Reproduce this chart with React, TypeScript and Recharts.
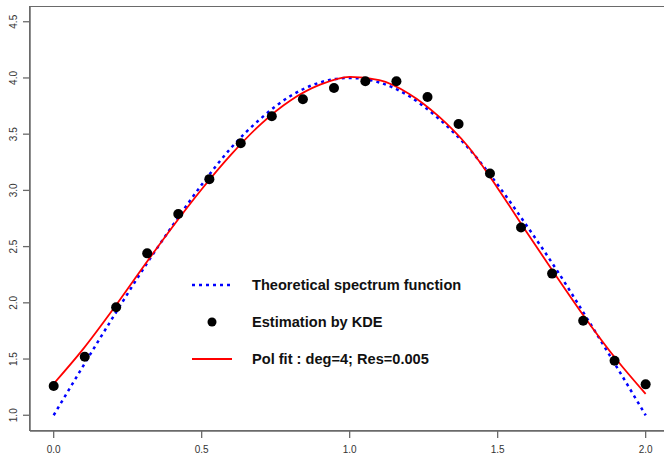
import {
  ComposedChart,
  Line,
  Scatter,
  XAxis,
  YAxis,
  Legend,
} from "recharts";

// grid used for both curves
const gridX = [0, 0.1, 0.2, 0.3, 0.4, 0.5, 0.6, 0.7, 0.8, 0.9, 1.0, 1.1, 1.2, 1.3, 1.4, 1.5, 1.6, 1.7, 1.8, 1.9, 2.0];
const theoY = [1.0, 1.44, 1.87, 2.29, 2.68, 3.05, 3.38, 3.64, 3.84, 3.96, 4.0, 3.96, 3.84, 3.64, 3.38, 3.05, 2.68, 2.29, 1.87, 1.44, 1.0];
const fitY = [1.28, 1.59, 1.94, 2.31, 2.67, 3.01, 3.32, 3.59, 3.8, 3.94, 4.01, 3.98, 3.86, 3.66, 3.39, 3.02, 2.62, 2.23, 1.85, 1.5, 1.19];

const kdeX = [0, 0.105, 0.211, 0.316, 0.421, 0.526, 0.632, 0.737, 0.842, 0.947, 1.053, 1.158, 1.263, 1.368, 1.474, 1.579, 1.684, 1.789, 1.895, 2.0];
const kdeY = [1.26, 1.52, 1.96, 2.44, 2.79, 3.1, 3.42, 3.66, 3.81, 3.91, 3.97, 3.97, 3.83, 3.59, 3.15, 2.67, 2.26, 1.84, 1.485, 1.275];

const xTicks = [0, 0.5, 1, 1.5, 2];
const yTicks = [1, 1.5, 2, 2.5, 3, 3.5, 4, 4.5];
const xDomain = [-0.08, 2.062];
const yDomain = [0.86, 4.64];

const theoData = gridX.map((x, i) => ({ x, y: theoY[i] }));
const fitData = gridX.map((x, i) => ({ x, y: fitY[i] }));
const kdeData = kdeX.map((x, i) => ({ x, y: kdeY[i] }));

const FONT = "'Liberation Sans', Arial, Helvetica, sans-serif";
const AXIS = "#6a6a6a";

const YTick = ({ x, y, payload }: any) => (
  <text
    x={x - 6}
    y={y}
    transform={`rotate(-90 ${x - 6} ${y})`}
    textAnchor="middle"
    fontSize={10}
    fontFamily={FONT}
    fill="#333"
  >
    {payload.value.toFixed(1)}
  </text>
);

const XTick = ({ x, y, payload }: any) => (
  <text x={x} y={y + 14.5} textAnchor="middle" fontSize={10} fontFamily={FONT} fill="#333">
    {payload.value.toFixed(1)}
  </text>
);

const legendItems = [
  { label: "Theoretical spectrum function", kind: "dash" },
  { label: "Estimation by KDE", kind: "dot" },
  { label: "Pol fit : deg=4; Res=0.005", kind: "line" },
];

const renderLegend = () => (
  <div style={{ fontFamily: FONT, fontWeight: "bold", fontSize: 14.6, color: "#111" }}>
    {legendItems.map((it) => (
      <div key={it.label} style={{ display: "flex", alignItems: "center", height: 37 }}>
        <svg width={60} height={12}>
          {it.kind === "dash" && (
            <line x1={0} y1={6} x2={40} y2={6} stroke="#0000ff" strokeWidth={2.5} strokeDasharray="3 4" />
          )}
          {it.kind === "dot" && <circle cx={20} cy={6} r={4.5} fill="#000" />}
          {it.kind === "line" && <line x1={0} y1={6} x2={40} y2={6} stroke="#ff0000" strokeWidth={1.8} />}
        </svg>
        <span>{it.label}</span>
      </div>
    ))}
  </div>
);

export default function App() {
  return (
    <div style={{ position: "absolute", left: 0, top: 0, width: 664, height: 455, background: "#fff" }}>
      <ComposedChart width={664} height={455} margin={{ top: 6, right: 0, bottom: 0, left: 0 }}>
        <XAxis
          type="number"
          dataKey="x"
          domain={xDomain}
          ticks={xTicks}
          allowDataOverflow
          height={24}
          tickSize={7}
          tickMargin={0}
          axisLine={{ stroke: AXIS, strokeWidth: 1.5 }}
          tickLine={{ stroke: AXIS, strokeWidth: 1.3 }}
          tick={<XTick />}
        />
        <YAxis
          type="number"
          dataKey="y"
          domain={yDomain}
          ticks={yTicks}
          allowDataOverflow
          width={30}
          tickSize={7}
          tickMargin={0}
          axisLine={{ stroke: AXIS, strokeWidth: 1.5 }}
          tickLine={{ stroke: AXIS, strokeWidth: 1.3 }}
          tick={<YTick />}
        />
        <Legend
          layout="vertical"
          align="center"
          verticalAlign="middle"
          content={renderLegend}
          wrapperStyle={{ left: 192, top: 266, width: 320 }}
        />
        <Line
          data={theoData}
          dataKey="y"
          type="monotone"
          stroke="#0000ff"
          strokeWidth={2.5}
          strokeDasharray="3 4"
          dot={false}
          activeDot={false}
          isAnimationActive={false}
          name="Theoretical spectrum function"
        />
        <Line
          data={fitData}
          dataKey="y"
          type="monotone"
          stroke="#ff0000"
          strokeWidth={1.8}
          dot={false}
          activeDot={false}
          isAnimationActive={false}
          name="Pol fit : deg=4; Res=0.005"
        />
        <Scatter
          data={kdeData}
          dataKey="y"
          fill="#000"
          isAnimationActive={false}
          name="Estimation by KDE"
          shape={(p: any) => <circle cx={p.cx} cy={p.cy} r={5} fill="#000" />}
        />
      </ComposedChart>
      {/* plot box frame (top and bottom edges), right edge runs off the page as in the original */}
      <div
        style={{
          position: "absolute",
          left: 29,
          top: 6,
          width: 635,
          height: 425,
          boxSizing: "border-box",
          borderTop: `1.5px solid ${AXIS}`,
          borderBottom: `1.5px solid ${AXIS}`,
          borderLeft: `1.5px solid ${AXIS}`,
          pointerEvents: "none",
        }}
      />
    </div>
  );
}
